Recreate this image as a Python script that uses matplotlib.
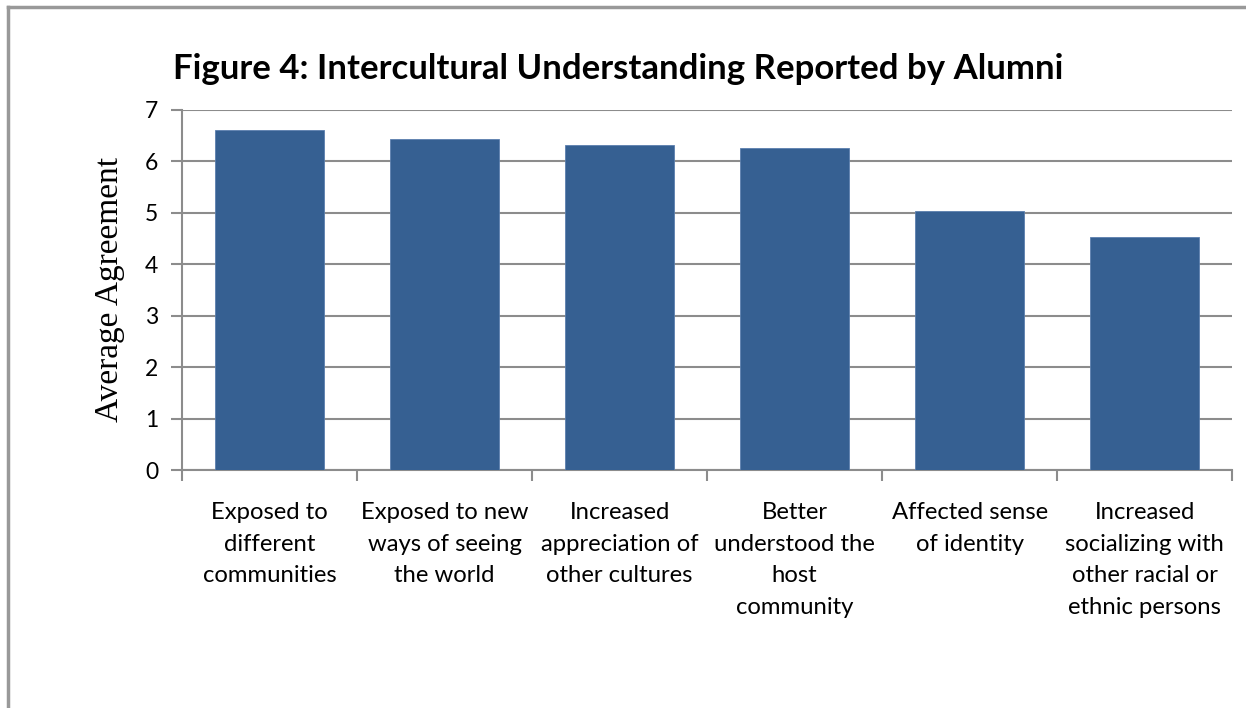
import matplotlib.pyplot as plt
from matplotlib.lines import Line2D
import numpy as np

categories = [
    "Exposed to\ndifferent\ncommunities",
    "Exposed to new\nways of seeing\nthe world",
    "Increased\nappreciation of\nother cultures",
    "Better\nunderstood the\nhost\ncommunity",
    "Affected sense\nof identity",
    "Increased\nsocializing with\nother racial or\nethnic persons",
]
agreement = [6.61, 6.43, 6.32, 6.26, 5.04, 4.52]
y_ticks = [0, 1, 2, 3, 4, 5, 6, 7]

BAR_COLOR = "#366092"
GRID_COLOR = "#8c8c8c"
SANS = ["Lato", "DejaVu Sans"]

fig = plt.figure(figsize=(12.46, 7.08), dpi=100)
ax = fig.add_axes([0.146, 0.336, 0.843, 0.509])

x = np.arange(len(categories))
ax.bar(x, agreement, width=0.62, color=BAR_COLOR, edgecolor="#5b7fae",
       linewidth=0.6, zorder=3)

ax.set_xlim(-0.5, len(categories) - 0.5)
ax.set_ylim(0, 7)
ax.set_yticks(y_ticks)
ax.set_yticklabels([str(t) for t in y_ticks], fontsize=16.5, family=SANS)
ax.yaxis.grid(True, color=GRID_COLOR, linewidth=1.5, zorder=0)

# category labels centred under each bar, ticks on the boundaries
ax.set_xticks(x)
ax.set_xticklabels(categories, fontsize=17.2, family=SANS, linespacing=1.62,
                   va="top")
ax.tick_params(axis="x", length=0, pad=23)
ax.set_xticks(np.arange(-0.5, len(categories)), minor=True)
ax.tick_params(axis="x", which="minor", length=8, width=1.5, color=GRID_COLOR,
               direction="out")
ax.tick_params(axis="y", length=8, width=1.5, color=GRID_COLOR, pad=9)

for side in ["top", "right"]:
    ax.spines[side].set_visible(False)
for side in ["left", "bottom"]:
    ax.spines[side].set_color(GRID_COLOR)
    ax.spines[side].set_linewidth(1.5)

ax.set_ylabel("Average Agreement", fontsize=24, family=["Liberation Serif"],
              labelpad=14)

fig.text(0.496, 0.903, "Figure 4: Intercultural Understanding Reported by Alumni",
         ha="center", va="center", fontsize=25, fontweight="bold", family=SANS)

# outer chart border (left and top edges visible in the crop)
fig.add_artist(Line2D([8 / 1246, 8 / 1246], [0, 1 - 7 / 708],
                      transform=fig.transFigure, color="#999999", linewidth=2.5))
fig.add_artist(Line2D([8 / 1246, 1], [1 - 7 / 708, 1 - 7 / 708],
                      transform=fig.transFigure, color="#999999", linewidth=2.5))

fig.savefig("out.png", dpi=100, facecolor="white")
